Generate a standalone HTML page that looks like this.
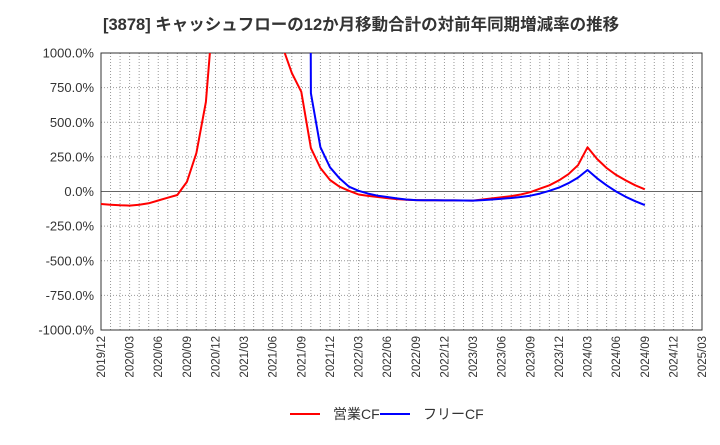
<!DOCTYPE html>
<html><head><meta charset="utf-8"><style>
body{margin:0;background:#fff;font-family:"Liberation Sans","Noto Sans CJK JP",sans-serif}
</style></head><body>
<svg id="c" width="720" height="440" xmlns="http://www.w3.org/2000/svg" style="font-family:'Liberation Sans','Noto Sans CJK JP',sans-serif">
<text x="103" y="30" font-size="16.5" font-weight="bold" fill="#333">[3878]  キャッシュフローの12か月移動合計の対前年同期増減率の推移</text>
<defs><clipPath id="pc"><rect x="101" y="53" width="601" height="277"/></clipPath></defs>
<g id="grid"></g><g id="axes"></g><g id="series" clip-path="url(#pc)"></g>
<g>
<line x1="290" y1="414" x2="320" y2="414" stroke="#f00" stroke-width="2"/>
<text x="333" y="419" font-size="14" fill="#333">営業CF</text>
<line x1="380" y1="414" x2="410" y2="414" stroke="#00f" stroke-width="2"/>
<text x="423" y="419" font-size="14" fill="#333">フリーCF</text>
</g>
</svg>
<script>
const yTicks=[1000,750,500,250,0,-250,-500,-750,-1000];
const xTickLabels=["2019/12","2020/03","2020/06","2020/09","2020/12","2021/03","2021/06","2021/09","2021/12","2022/03","2022/06","2022/09","2022/12","2023/03","2023/06","2023/09","2023/12","2024/03","2024/06","2024/09","2024/12","2025/03"];
// monthly from 2019/12
const operatingCF=[-90,-95,-100,-102,-95,-85,-65,-45,-25,69,278,647,1500,null,null,null,null,null,null,1050,856,720,313,170,83,35,5,-22,-32,-40,-48,-55,-60,-62,-63,-63,-64,-64,-65,-66,-58,-50,-42,-33,-22,-5,20,45,80,125,190,319,235,170,120,80,45,16];
const freeCF=[null,null,null,null,null,null,null,null,null,null,null,null,null,null,null,null,null,null,null,null,null,20000,710,320,175,95,35,5,-15,-30,-40,-50,-58,-62,-63,-63,-64,-64,-65,-66,-62,-58,-52,-47,-40,-30,-15,5,28,60,100,155,95,45,0,-38,-70,-98];
const svg=document.getElementById('c'),NS="http://www.w3.org/2000/svg";
const X0=101,X1=702,Y0=53,Y1=330,months=63;
const xs=i=>X0+i*(X1-X0)/months;
const ys=v=>Y1-(v+1000)/2000*(Y1-Y0);
function mk(t,a,p){const e=document.createElementNS(NS,t);for(const k in a)e.setAttribute(k,a[k]);p.appendChild(e);return e;}
const g=document.getElementById('grid'),ax=document.getElementById('axes'),s=document.getElementById('series');
for(let m=1;m<months;m++){const l=mk('line',{x1:xs(m),x2:xs(m),y1:Y0,y2:Y1,stroke:'#999','stroke-dasharray':'1,2','stroke-width':1},g);

}
yTicks.forEach(v=>{const y=ys(v);
const l=mk('line',{x1:X0,x2:X1,y1:y,y2:y,stroke:v===0?'#666':'#999','stroke-dasharray':v===0?'':'1,2','stroke-width':1},g);


const t=mk('text',{x:94,y:y+4.5,'font-size':13,'text-anchor':'end',fill:'#333'},ax);


t.textContent=v.toFixed(1)+'%';});
xTickLabels.forEach((lab,i)=>{const x=xs(i*3);
const t=mk('text',{x:0,y:0,'font-size':11.5,'text-anchor':'end',fill:'#333',transform:`translate(${x+4},${Y1+6}) rotate(-90)`},ax);


t.textContent=lab;});
const fr=mk('rect',{x:X0,y:Y0,width:X1-X0,height:Y1-Y0,fill:'none',stroke:'#333','stroke-width':1},ax);


function line(arr,color,name){let d='',pen=false;arr.forEach((v,i)=>{if(v===null){pen=false;return;}d+=(pen?'L':'M')+xs(i).toFixed(1)+','+ys(v).toFixed(1);pen=true;});
const p=mk('path',{d:d,fill:'none',stroke:color,'stroke-width':2,'stroke-linejoin':'round'},s);

}
line(operatingCF,'#f00','operating-cf-line');
line(freeCF,'#00f','free-cf-line');
</script>
</body></html>
